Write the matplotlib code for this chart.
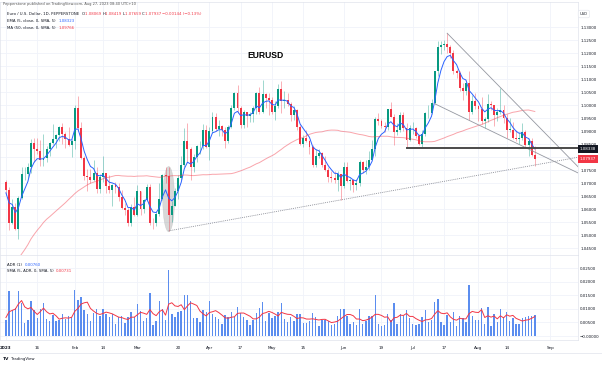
import numpy as np
import pandas as pd
import matplotlib
matplotlib.use('Agg')
import matplotlib.pyplot as plt
from matplotlib.patches import Ellipse

# daily EURUSD candles, Jan 2 - Aug 25 2023 (weekdays)
dates = pd.bdate_range('2023-01-02', '2023-08-25')

opens = [
    1.0705, 1.0672, 1.0546, 1.0606, 1.0522, 1.0644, 1.0734, 1.0735, 1.0762, 1.0852, 1.0830, 1.0822, 1.0790, 1.0795, 1.0832, 1.0855, 1.0870, 1.0884, 1.0915, 1.0890, 1.0868, 1.0848,
    1.0862, 1.0990, 1.0910, 1.0795, 1.0726, 1.0725, 1.0712, 1.0740, 1.0678, 1.0723, 1.0737, 1.0690, 1.0675, 1.0694, 1.0686, 1.0648, 1.0605, 1.0595, 1.0546, 1.0608,
    1.0576, 1.0668, 1.0600, 1.0634, 1.0683, 1.0548, 1.0545, 1.0582, 1.0640, 1.0732, 1.0728, 1.0578, 1.0610, 1.0670, 1.0718, 1.0770, 1.0860, 1.0830, 1.0760, 1.0800, 1.0842, 1.0842, 1.0905,
    1.0839, 1.0900, 1.0955, 1.0906, 1.0920, 1.0905, 1.0860, 1.0914, 1.0990, 1.1048, 1.0990, 1.0925, 1.0972, 1.0956, 1.0965, 1.0990, 1.1047, 1.0975, 1.1042, 1.1028,
    1.1020, 1.0975, 1.0995, 1.1060, 1.1015, 1.1020, 1.1005, 1.0960, 1.0980, 1.0915, 1.0850, 1.0875, 1.0860, 1.0840, 1.0770, 1.0805, 1.0815, 1.0770, 1.0750, 1.0725, 1.0720, 1.0710, 1.0735,
    1.0690, 1.0762, 1.0708, 1.0712, 1.0693, 1.0700, 1.0780, 1.0750, 1.0760, 1.0790, 1.0830, 1.0945, 1.0940, 1.0920, 1.0915, 1.0985, 1.0955, 1.0895, 1.0905, 1.0960, 1.0910, 1.0865,
    1.0910, 1.0910, 1.0880, 1.0850, 1.0890, 1.0968, 1.0970, 1.1008, 1.1130, 1.1225, 1.1230, 1.1235, 1.1225, 1.1200, 1.1130, 1.1125, 1.1065, 1.1055, 1.1085, 1.0975, 1.1015,
    1.0995, 1.0983, 1.0940, 1.0945, 1.1005, 1.1000, 1.0960, 1.0975, 1.0980, 1.0950, 1.0905, 1.0905, 1.0875, 1.0870, 1.0875, 1.0895, 1.0845, 1.0860, 1.08069,
]
highs = [
    1.0713, 1.0683, 1.0637, 1.0624, 1.0650, 1.0760, 1.0760, 1.0778, 1.0868, 1.0875, 1.0875, 1.0866, 1.0887, 1.0843, 1.0858, 1.0927, 1.0890, 1.0920, 1.0930, 1.0898, 1.0915, 1.0870,
    1.1000, 1.1033, 1.0936, 1.0805, 1.0752, 1.0755, 1.0790, 1.0760, 1.0735, 1.0805, 1.0740, 1.0730, 1.0695, 1.0705, 1.0700, 1.0672, 1.0625, 1.0605, 1.0620, 1.0645,
    1.0691, 1.0668, 1.0640, 1.0695, 1.0695, 1.0565, 1.0590, 1.0700, 1.0736, 1.0760, 1.0760, 1.0630, 1.0680, 1.0730, 1.0803, 1.0912, 1.0930, 1.0840, 1.0810, 1.0845, 1.0860, 1.0927, 1.0925,
    1.0917, 1.0973, 1.0970, 1.0942, 1.0925, 1.0915, 1.0925, 1.0999, 1.1050, 1.1076, 1.0995, 1.0980, 1.0975, 1.0975, 1.0995, 1.1050, 1.1068, 1.1095, 1.1045, 1.1045,
    1.1030, 1.1015, 1.1080, 1.1092, 1.1054, 1.1045, 1.1010, 1.0998, 1.0985, 1.0925, 1.0885, 1.0905, 1.0865, 1.0845, 1.0830, 1.0830, 1.0820, 1.0802, 1.0760, 1.0745, 1.0745, 1.0745, 1.0735,
    1.0780, 1.0780, 1.0720, 1.0717, 1.0715, 1.0790, 1.0785, 1.0790, 1.0823, 1.0865, 1.0955, 1.0970, 1.0945, 1.0935, 1.0985, 1.1012, 1.0965, 1.0930, 1.0975, 1.0975, 1.0930, 1.0925,
    1.0935, 1.0915, 1.0890, 1.0905, 1.0975, 1.1000, 1.1025, 1.1130, 1.1245, 1.1245, 1.1250, 1.1276, 1.1230, 1.1210, 1.1140, 1.1130, 1.1085, 1.1090, 1.1130, 1.1040, 1.1045,
    1.1000, 1.1030, 1.0955, 1.1042, 1.1015, 1.1000, 1.0990, 1.1064, 1.1000, 1.0965, 1.0950, 1.0935, 1.0905, 1.0895, 1.0930, 1.0905, 1.0875, 1.0875, 1.08419,
]
lows = [
    1.0653, 1.0519, 1.0542, 1.0520, 1.0484, 1.0637, 1.0713, 1.0719, 1.0738, 1.0780, 1.0810, 1.0765, 1.0765, 1.0780, 1.0803, 1.0850, 1.0835, 1.0860, 1.0850, 1.0836, 1.0843, 1.0800,
    1.0830, 1.0900, 1.0794, 1.0710, 1.0670, 1.0700, 1.0706, 1.0660, 1.0660, 1.0705, 1.0660, 1.0660, 1.0613, 1.0660, 1.0630, 1.0600, 1.0578, 1.0535, 1.0533, 1.0575,
    1.0575, 1.0576, 1.0585, 1.0630, 1.0537, 1.0524, 1.0535, 1.0573, 1.0635, 1.0701, 1.0516, 1.0550, 1.0610, 1.0640, 1.0712, 1.0760, 1.0780, 1.0713, 1.0743, 1.0780, 1.0810, 1.0830, 1.0835,
    1.0788, 1.0893, 1.0900, 1.0880, 1.0880, 1.0836, 1.0855, 1.0910, 1.0980, 1.0968, 1.0910, 1.0910, 1.0915, 1.0935, 1.0935, 1.0965, 1.0965, 1.0970, 1.0990, 1.0960,
    1.0965, 1.0942, 1.0990, 1.0970, 1.0990, 1.0995, 1.0940, 1.0942, 1.0905, 1.0845, 1.0838, 1.0856, 1.0810, 1.0760, 1.0760, 1.0795, 1.0760, 1.0745, 1.0705, 1.0705, 1.0700, 1.0670, 1.0635,
    1.0680, 1.0705, 1.0675, 1.0665, 1.0675, 1.0690, 1.0740, 1.0735, 1.0750, 1.0790, 1.0805, 1.0925, 1.0910, 1.0895, 1.0903, 1.0955, 1.0845, 1.0885, 1.0895, 1.0900, 1.0835, 1.0860,
    1.0890, 1.0875, 1.0845, 1.0834, 1.0880, 1.0950, 1.0965, 1.1005, 1.1110, 1.1195, 1.1210, 1.1200, 1.1180, 1.1120, 1.1105, 1.1055, 1.1020, 1.1040, 1.0943, 1.0965, 1.0985,
    1.0940, 1.0928, 1.0912, 1.0935, 1.0980, 1.0920, 1.0940, 1.0965, 1.0930, 1.0875, 1.0895, 1.0870, 1.0860, 1.0850, 1.0865, 1.0834, 1.0802, 1.0803, 1.07659,
]
closes = [
    1.0672, 1.0546, 1.0606, 1.0522, 1.0644, 1.0734, 1.0735, 1.0762, 1.0852, 1.0830, 1.0822, 1.0790, 1.0795, 1.0832, 1.0855, 1.0870, 1.0884, 1.0915, 1.0890, 1.0868, 1.0848, 1.0862,
    1.0990, 1.0910, 1.0795, 1.0726, 1.0725, 1.0712, 1.0740, 1.0678, 1.0723, 1.0737, 1.0690, 1.0675, 1.0694, 1.0686, 1.0648, 1.0605, 1.0595, 1.0546, 1.0608, 1.0576,
    1.0668, 1.0600, 1.0634, 1.0683, 1.0548, 1.0545, 1.0582, 1.0640, 1.0732, 1.0728, 1.0578, 1.0610, 1.0670, 1.0718, 1.0770, 1.0860, 1.0830, 1.0760, 1.0800, 1.0842, 1.0842, 1.0905, 1.0839,
    1.0900, 1.0955, 1.0906, 1.0920, 1.0905, 1.0860, 1.0914, 1.0990, 1.1048, 1.0990, 1.0925, 1.0972, 1.0956, 1.0965, 1.0990, 1.1047, 1.0975, 1.1042, 1.1028, 1.1020,
    1.0975, 1.0995, 1.1060, 1.1015, 1.1020, 1.1005, 1.0960, 1.0980, 1.0915, 1.0850, 1.0875, 1.0860, 1.0840, 1.0770, 1.0805, 1.0815, 1.0770, 1.0750, 1.0725, 1.0720, 1.0710, 1.0735, 1.0690,
    1.0762, 1.0708, 1.0712, 1.0693, 1.0700, 1.0780, 1.0750, 1.0760, 1.0790, 1.0830, 1.0945, 1.0940, 1.0920, 1.0915, 1.0985, 1.0955, 1.0895, 1.0905, 1.0960, 1.0910, 1.0865, 1.0910,
    1.0910, 1.0880, 1.0850, 1.0890, 1.0968, 1.0970, 1.1008, 1.1130, 1.1225, 1.1230, 1.1235, 1.1225, 1.1200, 1.1130, 1.1125, 1.1065, 1.1055, 1.1085, 1.0975, 1.1015, 1.0995,
    1.0983, 1.0940, 1.0945, 1.1005, 1.1000, 1.0960, 1.0975, 1.0980, 1.0950, 1.0905, 1.0905, 1.0875, 1.0870, 1.0875, 1.0895, 1.0845, 1.0860, 1.0807, 1.07937,
]

# closes Oct 25 - Dec 30 2022, only used to warm up the 50 day MA
pre_closes = [
    0.9965, 1.0078, 0.9965, 0.9965, 0.9883,
    0.9875, 0.9817, 0.9750, 0.9960, 1.0020, 1.0075, 1.0010, 1.0205, 1.0355, 1.0325, 1.0350,
    1.0390, 1.0365, 1.0325, 1.0245, 1.0305, 1.0395, 1.0410, 1.0400, 1.0340, 1.0330, 1.0405,
    1.0520, 1.0535, 1.0490, 1.0465, 1.0505, 1.0555, 1.0530, 1.0535, 1.0630, 1.0685, 1.0625,
    1.0585, 1.0605, 1.0620, 1.0605, 1.0595, 1.0615, 1.0640, 1.0640, 1.0610, 1.0660, 1.0705,
]
pre_ranges = [0.0060, 0.0068, 0.0080, 0.0072]

# drawings on the chart
support_pts = [('2023-03-15', 1.0516), ('2023-05-31', 1.0635)]
upper_pts = [('2023-07-18', 1.1276), ('2023-08-22', 1.0969)]
lower_pts = [('2023-07-12', 1.1005), ('2023-08-03', 1.0912)]
hline_from, hline_level = '2023-06-29', 1.0834
circled_day = '2023-03-15'

tick_days = ['2023-01-02', '2023-01-16', '2023-02-01', '2023-02-14', '2023-03-01', '2023-03-20',
             '2023-04-03', '2023-04-17', '2023-05-01', '2023-05-15', '2023-06-01', '2023-06-19',
             '2023-07-03', '2023-07-17', '2023-08-01', '2023-08-14', '2023-09-01']
tick_names = ['2023', '16', 'Feb', '14', 'Mar', '20', 'Apr', '17', 'May', '15', 'Jun', '19',
              'Jul', '17', 'Aug', '14', 'Sep']

UP, DOWN, BLUE = '#089981', '#f23645', '#2962ff'
TXT = '#131722'
GRID = '#f0f3fa'

W, H = 602, 365
axis_days = pd.bdate_range('2023-01-02', '2023-09-29')


def pos(d):
    return axis_days.get_loc(pd.Timestamp(d))


def fy(y):
    return 1 - y / H


o, h, l, c = map(np.array, (opens, highs, lows, closes))
x = np.arange(len(dates))
full = pd.Series(pre_closes + closes)
ema5 = full.ewm(span=5, adjust=False).mean().values[len(pre_closes):]
ma50 = full.rolling(50).mean().values[len(pre_closes):]
rng = h - l
rng_sma = pd.Series(pre_ranges + list(rng)).rolling(5).mean().values[len(pre_ranges):]

fig = plt.figure(figsize=(W / 100, H / 100), dpi=100)
ax = fig.add_axes([0, fy(255), 578 / W, 253 / H])
ax2 = fig.add_axes([0, fy(340), 578 / W, 85 / H])

x_lo, x_hi = -1.9, 182.8
for a in (ax, ax2):
    a.set_xlim(x_lo, x_hi)
    for s in a.spines.values():
        s.set_color('#e0e3eb')
        s.set_linewidth(0.5)
    a.set_axisbelow(True)
ax.set_ylim(1.04231, 1.13962)
ax2.set_ylim(-0.00147, 0.02978)

# grid
tick_x = [pos(d) for d in tick_days]
for a in (ax, ax2):
    for tx in tick_x:
        a.axvline(tx, color=GRID, lw=0.6, zorder=0)
price_ticks = np.arange(1.045, 1.1301, 0.005)
for p in price_ticks:
    ax.axhline(p, color=GRID, lw=0.6, zorder=0)
adr_ticks = np.arange(0, 0.0251, 0.005)
for v in adr_ticks:
    ax2.axhline(v, color=GRID, lw=0.6, zorder=0)

# highlight around the March candle
ci = pos(circled_day)
ax.add_patch(Ellipse((ci, (h[ci] + l[ci]) / 2), 3.8, (h[ci] - l[ci]) * 1.03,
                     fc='#9e9e9e', ec='#b0b0b0', lw=0.4, alpha=0.4, zorder=1))

# candles
col = np.where(c >= o, UP, DOWN)
ax.vlines(x, l, h, colors=col, lw=0.6, alpha=0.45, zorder=2)
ax.bar(x, np.maximum(np.abs(c - o), 0.00012), bottom=np.minimum(o, c), width=0.62,
       color=col, lw=0, zorder=3)
ax.plot(x, ema5, color=BLUE, lw=0.7, zorder=4)
ax.plot(x, ma50, color=DOWN, lw=0.7, alpha=0.45, zorder=4)


# trend lines
def extend(p0, p1):
    x0, x1 = pos(p0[0]), pos(p1[0])
    k = (p1[1] - p0[1]) / (x1 - x0)
    return [x0, x_hi], [p0[1], p0[1] + k * (x_hi - x0)]


xs, ys = extend(*support_pts)
ax.plot(xs, ys, color='#787b86', lw=0.6, ls=(0, (1, 1.3)), zorder=5)
for pts in (upper_pts, lower_pts):
    xs, ys = extend(*pts)
    ax.plot(xs, ys, color='#9598a1', lw=0.6, zorder=5)
ax.plot([pos(hline_from), x_hi], [hline_level, hline_level], color='#4a4a4a', lw=1.4, zorder=6)

# price axis
ax.yaxis.tick_right()
ax.set_yticks(price_ticks)
ax.set_yticklabels(['%.5f' % p for p in price_ticks])
ax.tick_params(axis='y', length=0, pad=1.5, labelsize=2.9, labelcolor=TXT)
ax.set_xticks([])

# ADR pane
ax2.bar(x, rng, width=0.45, color='#5b8def', lw=0, zorder=2)
ax2.plot(x, rng_sma, color=DOWN, lw=0.7, zorder=3)
ax2.yaxis.tick_right()
ax2.set_yticks(adr_ticks)
ax2.set_yticklabels(['\u22120.00000' if v == 0 else '%.5f' % v for v in adr_ticks])
ax2.tick_params(axis='y', length=0, pad=1.5, labelsize=2.9, labelcolor=TXT)
ax2.set_xticks(tick_x)
ax2.set_xticklabels(tick_names)
ax2.tick_params(axis='x', length=0, pad=4, labelsize=3.0, labelcolor=TXT)
ax2.get_xticklabels()[0].set_fontweight('bold')

# text rows
renderer = fig.canvas.get_renderer()


def text_row(px, py, parts, size=2.8):
    for s, colr in parts:
        t = fig.text(px / W, fy(py), s, color=colr, fontsize=size, va='center')
        px += t.get_window_extent(renderer=renderer).width


text_row(3, 4, [('Pepperstone published on TradingView.com, Aug 27, 2023 08:40 UTC+10', '#555555')], 2.6)
text_row(7, 14, [('Euro / U.S. Dollar, 1D, PEPPERSTONE  ', TXT), ('O', TXT), ('1.08069 ', DOWN),
                 ('H', TXT), ('1.08419 ', DOWN), ('L', TXT), ('1.07659 ', DOWN), ('C', TXT),
                 ('1.07937 ', DOWN), ('\u22120.00144 (\u22120.13%)', DOWN)])
text_row(7, 21, [('EMA (5, close, 0, SMA, 5)  ', TXT), ('1.08323', BLUE)])
text_row(7, 28, [('MA (50, close, 0, SMA, 5)  ', TXT), ('1.09766', DOWN)])
text_row(7, 265, [('ADR (1)  ', TXT), ('0.00760', BLUE)])
text_row(7, 271, [('SMA (5, ADR, 0, SMA, 5)  ', TXT), ('0.00731', DOWN)])

fig.text(265 / W, fy(55), 'EURUSD', fontsize=6.2, fontweight='bold', color='#000000',
         ha='center', va='center', family='Liberation Sans')

# right axis labels
fig.text(580 / W, fy(14), 'USD', fontsize=2.6, color=TXT, va='center',
         bbox=dict(boxstyle='round,pad=0.5', fc='white', ec='#e0e3eb', lw=0.4))
fig.text(580 / W, fy(149), '1.08338', fontsize=2.9, color='white', va='center',
         bbox=dict(boxstyle='square,pad=0.4', fc='#131722', ec='none'))
fig.text(580 / W, fy(159), '%.5f' % closes[-1], fontsize=2.9, color='white', va='center',
         bbox=dict(boxstyle='square,pad=0.4', fc=DOWN, ec='none'))

fig.add_artist(plt.Line2D([0, 1], [fy(353), fy(353)], color='#e0e3eb', lw=0.5))
fig.text(3 / W, fy(359), 'TV', fontsize=3.2, fontweight='bold', color=TXT, va='center')
fig.text(11 / W, fy(359), 'TradingView', fontsize=2.8, color=TXT, va='center')

fig.savefig('out.png', dpi=100, facecolor='white')
